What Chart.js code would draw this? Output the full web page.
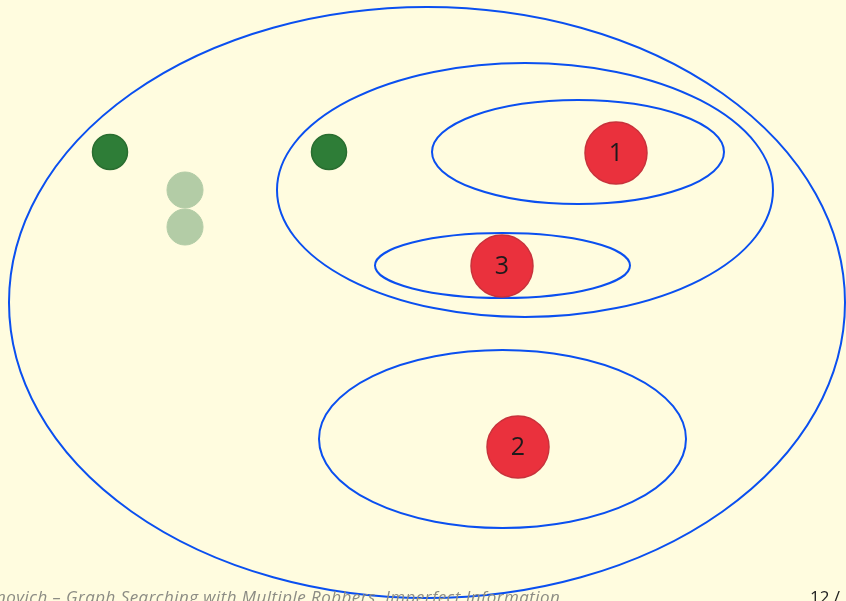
<!DOCTYPE html>
<html>
<head>
<meta charset="utf-8">
<script src="https://cdn.jsdelivr.net/npm/chart.js@4"></script>
<style>
  html, body { margin: 0; padding: 0; background: #fffcdf; }
  #wrap { position: relative; width: 846px; height: 601px; overflow: hidden; }
  #footer { position: absolute; left: -4px; top: 585px; font: italic 17px "Open Sans", "DejaVu Sans", sans-serif; color: #8c8c84; white-space: nowrap; letter-spacing: 0.45px; }
  #page { position: absolute; left: 810px; top: 585px; font: 17px "Open Sans", "DejaVu Sans", sans-serif; color: #222; white-space: nowrap; }
</style>
</head>
<body>
<div id="wrap">
  <canvas id="board" width="846" height="601"></canvas>
  <div id="footer">novich – Graph Searching with Multiple Robbers, Imperfect Information</div>
  <div id="page">12 /</div>
</div>
<script>
// ellipses: centre x, centre y, radius x, radius y
var ellipseCx = [427, 525, 578, 502.5, 502.5];
var ellipseCy = [302.5, 190, 152, 265.5, 439];
var ellipseRx = [418, 248, 146, 127.5, 183.5];
var ellipseRy = [295.5, 127, 52, 32.5, 89];

// cops (dark green) and their previous spots (light green)
var copX = [110, 329];
var copY = [152, 152];
var ghostX = [185, 185];
var ghostY = [190, 227];

// robbers
var robberLabels = ['1', '3', '2'];
var robberX = [616, 502, 518];
var robberY = [153, 266, 447];

function pts(xs, ys) {
    return xs.map(function(x, i) { return { x: x, y: ys[i] }; });
}

var ellipsePlugin = {
    id: 'ellipses',
    beforeDatasetsDraw: function(chart) {
        var c = chart.ctx, sx = chart.scales.x, sy = chart.scales.y;
        c.save();
        c.strokeStyle = '#0a4ff0';
        c.lineWidth = 2;
        for (var i = 0; i < ellipseCx.length; i++) {
            var px = sx.getPixelForValue(ellipseCx[i]);
            var py = sy.getPixelForValue(ellipseCy[i]);
            var rx = Math.abs(sx.getPixelForValue(ellipseCx[i] + ellipseRx[i]) - px);
            var ry = Math.abs(sy.getPixelForValue(ellipseCy[i] + ellipseRy[i]) - py);
            c.beginPath();
            c.ellipse(px, py, rx, ry, 0, 0, Math.PI * 2);
            c.stroke();
        }
        c.restore();
    }
};

var labelPlugin = {
    id: 'robberLabels',
    afterDatasetsDraw: function(chart) {
        var c = chart.ctx;
        var meta = chart.getDatasetMeta(2);
        c.save();
        c.fillStyle = '#1e1a1b';
        c.font = '25px "Open Sans", "DejaVu Sans", sans-serif';
        c.textAlign = 'center';
        c.textBaseline = 'middle';
        meta.data.forEach(function(p, i) {
            c.fillText(robberLabels[i], p.x, p.y + 1);
        });
        c.restore();
    }
};

document.addEventListener('DOMContentLoaded', function() {
    var ctx = document.getElementById('board').getContext('2d');
    new Chart(ctx, {
        type: 'scatter',
        data: {
            datasets: [{
                label: 'ghosts',
                data: pts(ghostX, ghostY),
                pointRadius: 18,
                pointBackgroundColor: '#b3cca6',
                pointBorderColor: '#b3cca6',
                pointBorderWidth: 1
            }, {
                label: 'cops',
                data: pts(copX, copY),
                pointRadius: 17.5,
                pointBackgroundColor: '#2e7d37',
                pointBorderColor: '#2a6e30',
                pointBorderWidth: 1.5
            }, {
                label: 'robbers',
                data: pts(robberX, robberY),
                pointRadius: 31,
                pointBackgroundColor: '#ea313d',
                pointBorderColor: '#c8323b',
                pointBorderWidth: 1.5
            }]
        },
        options: {
            responsive: false,
            animation: false,
            events: [],
            layout: { padding: 0, autoPadding: false },
            plugins: { legend: { display: false }, tooltip: { enabled: false } },
            scales: {
                x: { type: 'linear', min: 0, max: 846, display: false },
                y: { type: 'linear', min: 0, max: 601, reverse: true, display: false }
            }
        },
        plugins: [ellipsePlugin, labelPlugin]
    });
});
</script>
</body>
</html>
